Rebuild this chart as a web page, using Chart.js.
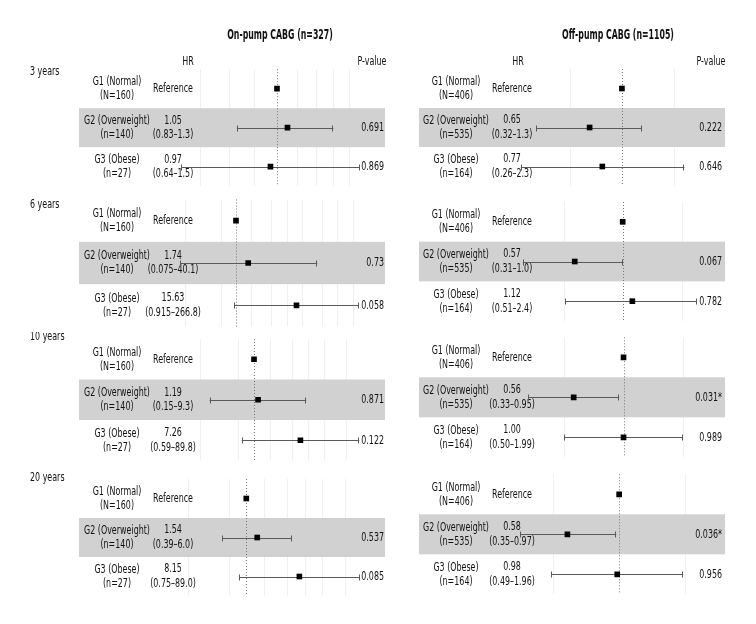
<!DOCTYPE html>
<html>
<head>
<meta charset="utf-8">
<script src="https://cdn.jsdelivr.net/npm/chart.js@4"></script>
<style>
  body { margin: 0; background: #fff; }
  #wrap { position: relative; width: 756px; height: 624px; overflow: hidden; }
  #wrap canvas { position: absolute; }
</style>
</head>
<body>
<div id="wrap"></div>
<script>
// Forest plot: BMI groups vs HR, on-pump / off-pump CABG, 4 follow-up periods

const periods = ['3 years', '6 years', '10 years', '20 years'];
const groups = ['G1 (Normal)', 'G2 (Overweight)', 'G3 (Obese)'];
const titles = ['On-pump CABG (n=327)', 'Off-pump CABG (n=1105)'];
const onN = ['(N=160)', '(n=140)', '(n=27)'];
const offN = ['(N=406)', '(n=535)', '(n=164)'];

// G2, G3 per period (G1 = reference, HR 1)
const onHR = [['1.05', '0.97'], ['1.74', '15.63'], ['1.19', '7.26'], ['1.54', '8.15']];
const onLo = [['0.83', '0.64'], ['0.075', '0.915'], ['0.15', '0.59'], ['0.39', '0.75']];
const onHi = [['1.3', '1.5'], ['40.1', '266.8'], ['9.3', '89.8'], ['6.0', '89.0']];
const onP = [['0.691', '0.869'], ['0.73', '0.058'], ['0.871', '0.122'], ['0.537', '0.085']];

const offHR = [['0.65', '0.77'], ['0.57', '1.12'], ['0.56', '1.00'], ['0.58', '0.98']];
const offLo = [['0.32', '0.26'], ['0.31', '0.51'], ['0.33', '0.50'], ['0.35', '0.49']];
const offHi = [['1.3', '2.3'], ['1.0', '2.4'], ['0.95', '1.99'], ['0.97', '1.96']];
const offP = [['0.222', '0.646'], ['0.067', '0.782'], ['0.031*', '0.989'], ['0.036*', '0.956']];

// x axis limits (log) and faint grid ticks per panel
const onRange = [[0.637, 1.471], [0.0785, 280], [0.0423, 92.7], [0.0728, 89.5]];
const offRange = [[0.257, 2.72], [0.305, 2.39], [0.329, 2.35], [0.352, 2.27]];
const onGrid = [[0.7, 0.8, 0.9, 1.1, 1.2, 1.3, 1.4], [0.1, 0.5, 2, 5, 10, 20, 50, 100, 200],
  [0.1, 0.5, 2, 5, 10, 20, 50], [0.1, 0.5, 2, 5, 10, 20, 50]];
const offGrid = [[0.5, 2], [0.5, 2], [0.5, 2], [0.5, 2]];

// ---- layout (pixels) ----
const sections = [{ y: 0, h: 192 }, { y: 192, h: 140 }, { y: 332, h: 138 }, { y: 470, h: 154 }];
const yearY = [72, 205, 337, 478];
const areaTB = [
  [[69.2, 186.2], [199.5, 326.5], [339, 460.5], [479, 596]],
  [[69, 186], [202, 321], [337.3, 457.3], [474.3, 594.3]]
];
const cols = [
  { cx: 0, w: 390, areaL: 180, areaR: 360, bandL: 79, bandR: 385, labelX: 117, hrX: 173, pX: 384, titleX: 280, hrHeadX: 188, pHeadX: 372 },
  { cx: 390, w: 366, areaL: 520, areaR: 697, bandL: 419, bandR: 725, labelX: 456, hrX: 512, pX: 722, titleX: 618, hrHeadX: 518, pHeadX: 711 }
];

const FONT = '"Liberation Sans Narrow", "DejaVu Sans Condensed", "Open Sans", sans-serif';
const TEXT = '#111';

// squeeze text horizontally to look like the condensed face in the original
const meas = document.createElement('canvas').getContext('2d');
meas.font = '13px ' + FONT;
const textScale = Math.min(1, 40 / meas.measureText('Reference').width);
meas.font = 'bold 14px ' + FONT;
const titleScale = Math.min(1, 105.6 / meas.measureText(titles[0]).width);

function txt(ctx, s, x, y, align, bold) {
  ctx.save();
  ctx.font = (bold ? 'bold 14px ' : '13px ') + FONT;
  ctx.fillStyle = TEXT;
  ctx.textAlign = align;
  ctx.textBaseline = 'middle';
  ctx.translate(x, y);
  ctx.scale(bold ? titleScale : textScale, 1);
  ctx.fillText(s, 0, 0);
  ctx.restore();
}

function makePanel(ci, pi) {
  const col = cols[ci];
  const sec = sections[pi];
  const [top, bottom] = areaTB[ci][pi];
  const hr = ci === 0 ? onHR[pi] : offHR[pi];
  const lo = ci === 0 ? onLo[pi] : offLo[pi];
  const hi = ci === 0 ? onHi[pi] : offHi[pi];
  const pv = ci === 0 ? onP[pi] : offP[pi];
  const ns = ci === 0 ? onN : offN;
  const range = ci === 0 ? onRange[pi] : offRange[pi];
  const grid = ci === 0 ? onGrid[pi] : offGrid[pi];
  const ox = col.cx, oy = sec.y;

  const canvas = document.createElement('canvas');
  canvas.width = col.w; canvas.height = sec.h;
  canvas.style.left = ox + 'px'; canvas.style.top = oy + 'px';
  document.getElementById('wrap').appendChild(canvas);

  const forest = {
    id: 'forest',
    beforeDatasetsDraw(chart) {
      const ctx = chart.ctx, x = chart.scales.x, y = chart.scales.y, a = chart.chartArea;
      // faint grid
      ctx.save();
      ctx.strokeStyle = '#f0f0f0'; ctx.lineWidth = 1;
      grid.forEach(v => {
        if (v <= range[0] || v >= range[1]) return;
        const px = Math.round(x.getPixelForValue(v)) + 0.5;
        ctx.beginPath(); ctx.moveTo(px, a.top); ctx.lineTo(px, a.bottom); ctx.stroke();
      });
      // shaded G2 row
      ctx.fillStyle = '#d1d1d1';
      const y1 = y.getPixelForValue(1.5), y2 = y.getPixelForValue(2.5);
      ctx.fillRect(col.bandL - ox, y1, col.bandR - col.bandL, y2 - y1);
      // reference line HR = 1
      const rx = Math.round(x.getPixelForValue(1)) + 0.5;
      ctx.strokeStyle = '#777'; ctx.setLineDash([1, 2]);
      ctx.beginPath(); ctx.moveTo(rx, a.top); ctx.lineTo(rx, a.bottom); ctx.stroke();
      ctx.setLineDash([]);
      ctx.restore();

      // text columns
      if (pi === 0) {
        txt(ctx, titles[ci], col.titleX - ox, 35 - oy, 'center', true);
        txt(ctx, 'HR', col.hrHeadX - ox, 62 - oy, 'center');
        txt(ctx, 'P-value', col.pHeadX - ox, 62 - oy, 'center');
      }
      if (ci === 0) txt(ctx, periods[pi], 30 - ox, yearY[pi] - oy, 'left');
      for (let r = 0; r < 3; r++) {
        const py = y.getPixelForValue(r + 1);
        txt(ctx, groups[r], col.labelX - ox, py - 7, 'center');
        txt(ctx, ns[r], col.labelX - ox, py + 7, 'center');
        if (r === 0) {
          txt(ctx, 'Reference', col.hrX - ox, py, 'center');
        } else {
          txt(ctx, hr[r - 1], col.hrX - ox, py - 7.5, 'center');
          txt(ctx, '(' + lo[r - 1] + '\u2013' + hi[r - 1] + ')', col.hrX - ox, py + 7, 'center');
          txt(ctx, pv[r - 1], col.pX - ox, py, 'right');
        }
      }

      // confidence intervals, clipped to the plot area
      ctx.save();
      ctx.strokeStyle = '#5a5a5a'; ctx.lineWidth = 1;
      for (let r = 0; r < 2; r++) {
        const py = Math.round(y.getPixelForValue(r + 2)) + 0.5;
        const xa = Math.max(a.left, x.getPixelForValue(parseFloat(lo[r])));
        const xb = Math.min(a.right, x.getPixelForValue(parseFloat(hi[r])));
        ctx.beginPath();
        ctx.moveTo(xa, py); ctx.lineTo(xb, py);
        ctx.moveTo(Math.round(xa) + 0.5, py - 3); ctx.lineTo(Math.round(xa) + 0.5, py + 3);
        ctx.moveTo(Math.round(xb) - 0.5, py - 3); ctx.lineTo(Math.round(xb) - 0.5, py + 3);
        ctx.stroke();
      }
      ctx.restore();
    }
  };

  new Chart(canvas, {
    type: 'scatter',
    data: {
      datasets: [{
        data: [{ x: 1, y: 1 }, { x: parseFloat(hr[0]), y: 2 }, { x: parseFloat(hr[1]), y: 3 }],
        pointStyle: 'rect',
        radius: 4,
        backgroundColor: '#000',
        borderWidth: 0
      }]
    },
    options: {
      responsive: false,
      animation: false,
      events: [],
      layout: { padding: { left: col.areaL - ox, right: ox + col.w - col.areaR, top: top - oy, bottom: oy + sec.h - bottom } },
      scales: {
        x: { type: 'logarithmic', min: range[0], max: range[1], display: false },
        y: { type: 'linear', min: 0.5, max: 3.5, reverse: true, display: false }
      },
      plugins: { legend: { display: false }, tooltip: { enabled: false } }
    },
    plugins: [forest]
  });
}

for (let pi = 0; pi < 4; pi++) {
  makePanel(0, pi);
  makePanel(1, pi);
}
</script>
</body>
</html>
